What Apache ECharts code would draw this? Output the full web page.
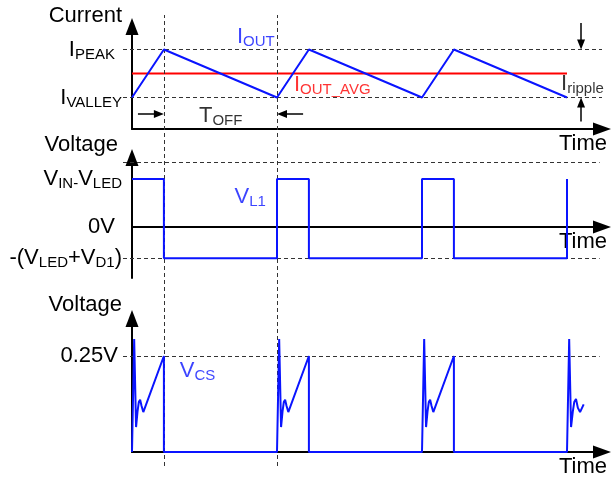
<!DOCTYPE html>
<html>
<head>
<meta charset="utf-8">
<script src="https://cdn.jsdelivr.net/npm/echarts@6/dist/echarts.min.js"></script>
<style>
html, body { margin: 0; padding: 0; background: #fff; }
#main { width: 611px; height: 478px; }
</style>
</head>
<body>
<div id="main"></div>
<script>
// time in arbitrary units, one switching period = 10
var tOn = [2.2, 12.2, 22.2];          // end of each on-time (peaks)
var tOff = [10, 20, 30];              // end of each off-time (valleys)

// inductor current
var iT = [0, 2.2, 10, 12.2, 20, 22.2, 30];
var iV = [1, 2, 1, 2, 1, 2, 1];
var iPeak = 2, iValley = 1, iAvg = 1.5;

// inductor voltage
var vlT = [0, 2.2, 2.2, 10, 10, 12.2, 12.2, 20, 20, 22.2, 22.2, 30, 30];
var vlV = [1, 1, -0.65, -0.65, 1, 1, -0.65, -0.65, 1, 1, -0.65, -0.65, 1];
var vHigh = 1, vLow = -0.65, vGuide = 1.35;

// current sense voltage (V)
var csT = [0, 0.15, 0.28, 0.38, 0.47, 0.56, 0.66, 0.78, 0.9, 2.2, 2.2,
           10, 10.15, 10.28, 10.38, 10.47, 10.56, 10.66, 10.78, 10.9, 12.2, 12.2,
           20, 20.15, 20.28, 20.38, 20.47, 20.56, 20.66, 20.78, 20.9, 22.2, 22.2,
           30, 30.15, 30.28, 30.4, 30.5, 30.62, 30.75, 30.9, 31.15];
var csV = [0, 0.294, 0.065, 0.105, 0.13, 0.136, 0.12, 0.104, 0.108, 0.25, 0,
           0, 0.294, 0.065, 0.105, 0.13, 0.136, 0.12, 0.104, 0.108, 0.25, 0,
           0, 0.294, 0.065, 0.105, 0.13, 0.136, 0.12, 0.104, 0.108, 0.25, 0,
           0, 0.294, 0.065, 0.105, 0.13, 0.138, 0.115, 0.104, 0.124];
var csRef = 0.25;

// ---- layout ----
var W = 611, H = 478;
var AX = 132;      // x of the vertical axes
var AXEND = 602;   // x of the time-axis end (arrow centre)
var PX = 14.5;     // pixels per time unit
var tMax = (AXEND - AX) / PX;
var FONT = 'Liberation Sans, Arial, sans-serif';
var BLUE = '#0a14ff', RED = '#ff0000';

var panels = [
    {top: 26.5, bottom: 129, min: 0.344, k: 48, name: 'Current', nameGap: 10.5, namePad: 10},
    {top: 157.5, bottom: 278, min: -1.0625, k: 48, name: 'Voltage', nameGap: 12.5, namePad: 14},
    {top: 318.5, bottom: 452, min: 0, k: 384, name: 'Voltage', nameGap: 13.5, namePad: 10}
];

function zip(a, b) {
    return a.map(function (x, i) { return [x, b[i]]; });
}

var rich = {
    m: {fontSize: 22, lineHeight: 25, fontFamily: FONT},
    mp7: {fontSize: 22, lineHeight: 25, fontFamily: FONT, padding: [0, 7, 0, 0]},
    mp4: {fontSize: 22, lineHeight: 25, fontFamily: FONT, padding: [0, 4, 0, 0]},
    s: {fontSize: 15, lineHeight: 15, fontFamily: FONT, padding: [10, 0, 0, 0]},
    sp7: {fontSize: 15, lineHeight: 15, fontFamily: FONT, padding: [10, 7, 0, 0]}
};

var yLabels = [
    {values: [iPeak, iValley], fmt: function (v) {
        return Math.abs(v - iPeak) < 1e-6 ? '{m|I}{sp7|PEAK}' : '{m|I}{s|VALLEY}';
    }},
    {values: [vHigh, 0, vLow], fmt: function (v) {
        if (Math.abs(v - vHigh) < 1e-6) return '{m|V}{s|IN-}{m|V}{s|LED}';
        if (Math.abs(v) < 1e-6) return '{mp7|0V}';
        return '{m|-(V}{s|LED}{m|+V}{s|D1}{m|)}';
    }},
    {values: [csRef], fmt: function () { return '{mp4|0.25V}'; }}
];

var grids = [], xAxes = [], yAxes = [], series = [];

panels.forEach(function (p, i) {
    grids.push({left: AX, top: p.top, width: AXEND - AX, height: p.bottom - p.top, outerBoundsMode: 'none'});
    xAxes.push({
        type: 'value', gridIndex: i, min: 0, max: tMax, z: 3,
        name: 'Time', nameLocation: 'end', nameGap: 5, nameMoveOverlap: false,
        nameTextStyle: {fontSize: 22, fontFamily: FONT, color: '#000', align: 'right', verticalAlign: 'top', padding: [4, 0, 0, 0]},
        axisLine: {show: true, onZero: i === 1, symbol: ['none', 'triangle'], symbolSize: [13, 18], lineStyle: {color: '#000', width: 2}},
        axisTick: {show: false}, axisLabel: {show: false}, splitLine: {show: false}
    });
    yAxes.push({
        type: 'value', gridIndex: i, min: p.min, max: p.min + (p.bottom - p.top) / p.k, z: 3,
        name: p.name, nameLocation: 'end', nameGap: p.nameGap, nameMoveOverlap: false,
        nameTextStyle: {fontSize: 22, fontFamily: FONT, color: '#000', align: 'right', verticalAlign: 'middle', padding: [0, p.namePad, 0, 0]},
        axisLine: {show: true, onZero: false, symbol: ['none', 'triangle'], symbolSize: [13, 17], lineStyle: {color: '#000', width: 2}},
        axisTick: {show: false}, splitLine: {show: false},
        axisLabel: {show: true, customValues: yLabels[i].values, formatter: yLabels[i].fmt, rich: rich, margin: 10, color: '#000', fontFamily: FONT, fontSize: 22}
    });
});

// full-size overlays sharing each panel's scales, for guides and notes
panels.forEach(function (p, i) {
    grids.push({left: 0, top: 0, width: W, height: H, outerBoundsMode: 'none'});
    xAxes.push({type: 'value', gridIndex: 3 + i, min: -AX / PX, max: (W - AX) / PX, show: false});
    yAxes.push({type: 'value', gridIndex: 3 + i, min: p.min - (H - p.bottom) / p.k, max: p.min + p.bottom / p.k, show: false});
});

// overlay for the vertical dashed time markers
grids.push({left: AX, top: 15, width: AXEND - AX, height: 451, outerBoundsMode: 'none'});
xAxes.push({type: 'value', gridIndex: 6, min: 0, max: tMax, show: false});
yAxes.push({type: 'value', gridIndex: 6, min: 0, max: 1, show: false});

var dash = {color: '#333', width: 1, type: [4, 3]};
var noMarkLabel = {show: false};

function guideLines(idx, levels, tEnd) {
    return {
        type: 'line', xAxisIndex: idx, yAxisIndex: idx, data: [], z: 1, silent: true,
        markLine: {
            silent: true, symbol: 'none', label: noMarkLabel, lineStyle: dash, animation: false,
            data: levels.map(function (v) { return [{coord: [-0.62, v]}, {coord: [tEnd, v]}]; })
        }
    };
}

series.push({
    type: 'line', xAxisIndex: 6, yAxisIndex: 6, data: [[0, 0]], showSymbol: false, lineStyle: {opacity: 0}, z: 1, silent: true,
    markLine: {
        silent: true, symbol: 'none', label: noMarkLabel, lineStyle: dash, animation: false,
        data: [{xAxis: tOn[0]}, {xAxis: tOff[0]}]
    }
});
series.push(guideLines(3, [iPeak, iValley], tMax));
series.push(guideLines(4, [vGuide, vLow], 32.25));
series.push(guideLines(5, [csRef], 32.25));

// waveforms
series.push({type: 'line', xAxisIndex: 0, yAxisIndex: 0, data: zip([0, 30], [iAvg, iAvg]), showSymbol: false, lineStyle: {color: RED, width: 2}, z: 4, silent: true});
series.push({type: 'line', xAxisIndex: 0, yAxisIndex: 0, data: zip(iT, iV), showSymbol: false, lineStyle: {color: BLUE, width: 2}, z: 5, silent: true});
series.push({type: 'line', xAxisIndex: 1, yAxisIndex: 1, data: zip(vlT, vlV), showSymbol: false, lineStyle: {color: BLUE, width: 2}, z: 5, silent: true});
series.push({type: 'line', xAxisIndex: 2, yAxisIndex: 2, data: zip(csT, csV), showSymbol: false, lineStyle: {color: BLUE, width: 2}, z: 5, silent: true});

// arrows (TOFF and Iripple), head centred half a head-length before the tip
var AH = 10;
var k1 = panels[0].k;
var arrowY = panels[0].min + 15 / k1;
series.push({
    type: 'line', xAxisIndex: 3, yAxisIndex: 3, data: [], z: 4, silent: true,
    markLine: {
        silent: true, symbol: ['none', 'triangle'], symbolSize: [8, AH], label: noMarkLabel, animation: false,
        lineStyle: {color: '#000', width: 1.5, type: 'solid'},
        data: [
            [{coord: [0.41, arrowY]}, {coord: [tOn[0] - AH / 2 / PX, arrowY]}],
            [{coord: [11.8, arrowY]}, {coord: [tOff[0] + AH / 2 / PX, arrowY]}],
            [{coord: [30.97, iPeak + 26.5 / k1]}, {coord: [30.97, iPeak + AH / 2 / k1]}],
            [{coord: [30.97, iValley - 24 / k1]}, {coord: [30.97, iValley - AH / 2 / k1]}]
        ]
    }
});

// text notes
function note(idx, pos, text, color) {
    return {
        type: 'scatter', xAxisIndex: idx, yAxisIndex: idx, data: [pos], symbolSize: 0, z: 6, silent: true,
        label: {show: true, position: 'right', distance: 0, formatter: text, color: color, rich: rich}
    };
}
series.push(note(3, [7.24, 2.26], '{m|I}{s|OUT}', BLUE));
series.push(note(3, [11.17, 1.27], '{m|I}{s|OUT_AVG}', RED));
series.push(note(3, [29.59, 1.29], '{m|I}{s|ripple}', '#000'));
series.push(note(3, [4.62, 0.62], '{m|T}{s|OFF}', '#000'));
series.push(note(4, [7.07, 0.63], '{m|V}{s|L1}', BLUE));
series.push(note(5, [3.3, 0.211], '{m|V}{s|CS}', BLUE));

var chart = echarts.init(document.getElementById('main'));
chart.setOption({
    animation: false,
    backgroundColor: '#fff',
    textStyle: {fontFamily: FONT},
    grid: grids,
    xAxis: xAxes,
    yAxis: yAxes,
    series: series
});
</script>
</body>
</html>
